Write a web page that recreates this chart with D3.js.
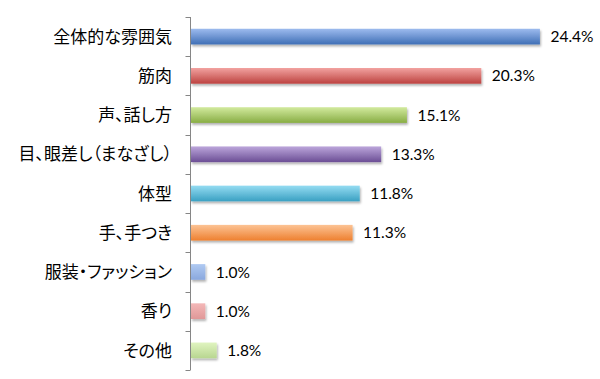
<!DOCTYPE html>
<html><head><meta charset="utf-8">
<script src="https://cdn.jsdelivr.net/npm/d3@7"></script>
<style>body{margin:0;background:#fff} .cat{font-feature-settings:"palt" 1;}</style>
</head><body>
<svg id="chart" width="600" height="379"></svg>
<script>
const categories = ["全体的な雰囲気","筋肉","声、話し方","目、眼差し（まなざし）","体型","手、手つき","服装・ファッション","香り","その他"];
const values = [24.4, 20.3, 15.1, 13.3, 11.8, 11.3, 1.0, 1.0, 1.8];
const valueLabels = ["24.4%","20.3%","15.1%","13.3%","11.8%","11.3%","1.0%","1.0%","1.8%"];
const topColors = ["#9dbbee","#f2a2a0","#d2ea9e","#bca6db","#94dcf2","#fcc394","#b0caf2","#f4b8b8","#e0f4c0"];
const bottomColors = ["#3f6fb6","#bd4340","#88ad44","#6b4e95","#3aa0c2","#ee8030","#8aa8de","#e09898","#b8d690"];

const svg = d3.select("#chart");
const x0 = 190.5;
const x = d3.scaleLinear().domain([0, 25]).range([0, 357.5]);
const y = d3.scaleBand().domain(categories).range([17, 370]).paddingInner(0.6).paddingOuter(0.3);

const defs = svg.append("defs");
categories.forEach((c,i)=>{
  const g = defs.append("linearGradient").attr("id","g"+i).attr("x1",0).attr("y1",0).attr("x2",0).attr("y2",1);
  g.append("stop").attr("offset","0%").attr("stop-color",topColors[i]);
  g.append("stop").attr("offset","100%").attr("stop-color",bottomColors[i]);
});
const f = defs.append("filter").attr("id","sh").attr("x","-10%").attr("y","-30%").attr("width","130%").attr("height","190%");
f.append("feDropShadow").attr("dx",1).attr("dy",2).attr("stdDeviation",1.2).attr("flood-color","#000").attr("flood-opacity",0.3);

const g = svg.append("g");
g.selectAll("rect.bar").data(values).enter().append("rect")
  .attr("class","bar")
  .attr("x", x0 + 0.5)
  .attr("y", (d,i)=>y(categories[i]))
  .attr("width", d=>x(d))
  .attr("height", y.bandwidth())
  .attr("fill", (d,i)=>"url(#g"+i+")")
  .attr("filter","url(#sh)");

// axis
const yAxisScale = d3.scalePoint().domain(d3.range(categories.length+1)).range([17,370]);
svg.append("line").attr("x1",x0).attr("x2",x0).attr("y1",17).attr("y2",370).attr("stroke","#868686").attr("stroke-width",1);
svg.selectAll("line.tick").data(d3.range(categories.length+1)).enter().append("line")
  .attr("class","tick").attr("x1",x0-5).attr("x2",x0).attr("y1",d=>Math.round(yAxisScale(d))+0.5).attr("y2",d=>Math.round(yAxisScale(d))+0.5)
  .attr("stroke","#868686");

svg.selectAll("text.cat").data(categories).enter().append("text")
  .attr("class","cat")
  .attr("x", 172)
  .attr("y", d=>y(d)+y.bandwidth()/2)
  .attr("dy","0.36em")
  .attr("text-anchor","end")
  .attr("font-family","'Noto Sans CJK JP', sans-serif")
  .attr("font-size","17px")
  .attr("fill","#000")
  .text(d=>d);

svg.selectAll("text.val").data(values).enter().append("text")
  .attr("class","val")
  .attr("x", d=>x0 + x(d) + 11)
  .attr("y", (d,i)=>y(categories[i])+y.bandwidth()/2)
  .attr("dy","0.36em")
  .attr("font-family","Lato, 'Open Sans', sans-serif")
  .attr("font-size","15.5px")
  .attr("fill","#000")
  .text((d,i)=>valueLabels[i]);
</script>
</body></html>
